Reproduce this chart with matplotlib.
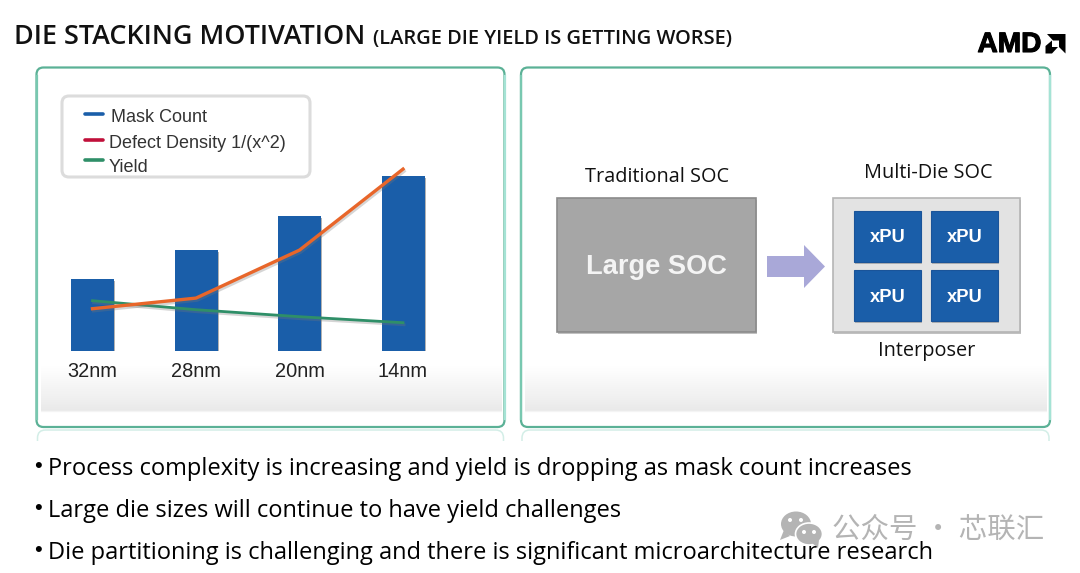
import numpy as np
import matplotlib
matplotlib.use("Agg")
import matplotlib.pyplot as plt
from matplotlib.patches import FancyBboxPatch, Rectangle, Polygon, Ellipse
import matplotlib.patheffects as pe

nodes = ["32nm", "28nm", "20nm", "14nm"]
mask_count = [36, 50.5, 67.5, 87.5]
defect_density = [21, 26.3, 50.3, 90.8]
yield_values = [25, 20.5, 17, 14]
legend_labels = ["Mask Count", "Defect Density 1/(x^2)", "Yield"]
bullets = ["Process complexity is increasing and yield is dropping as mask count increases",
           "Large die sizes will continue to have yield challenges",
           "Die partitioning is challenging and there is significant microarchitecture research"]
xpu_labels = ["xPU", "xPU", "xPU", "xPU"]

BLUE = "#1a5ea9"; ORANGE = "#e8662a"; GREEN = "#2f8f68"; RED = "#c0103a"
W, H = 1080, 573
fig = plt.figure(figsize=(W/100, H/100), dpi=100, facecolor="white")
bg = fig.add_axes([0, 0, 1, 1], zorder=0)
bg.set_xlim(0, W); bg.set_ylim(H, 0); bg.axis("off")
SANS = "Liberation Sans"; BODY = "Open Sans"; HEAD = "Open Sans"

def grad(x0, x1, y0, y1, stops, z=1):
    yy = np.linspace(0, 1, 64)
    g = np.interp(yy, stops[0], stops[1])
    img = np.dstack([g[:, None]] * 3)
    bg.imshow(img, extent=(x0, x1, y1, y0), aspect="auto", zorder=z, vmin=0, vmax=1, interpolation="bilinear")

def panel(x0, y0, x1, y1):
    # faint reflection below
    bg.add_patch(FancyBboxPatch((x0+1, y1+3), x1-x0-2, 60, boxstyle="round,pad=0,rounding_size=8",
                                fc="white", ec="#d3eee7", lw=1.1, zorder=0.5))
    bg.add_patch(Rectangle((x0-3, y1+14), x1-x0+6, 70, fc="white", ec="none", zorder=0.6))
    bg.add_patch(FancyBboxPatch((x0, y0), x1-x0, y1-y0, boxstyle="round,pad=0,rounding_size=7",
                                fc="white", ec="#5bb196", lw=1.6, zorder=0.8))
    bg.plot([x1, x1], [y0+8, y1-8], color="#a5e3d5", lw=1.6, zorder=0.9)
    bg.plot([x0, x0], [y0+8, y1-8], color="#78c8b0", lw=1.6, zorder=0.9)
    grad(x0+4, x1-3, 366, 413, ([0, .75, .95, 1], [1, .935, .915, 1]))

panel(36.5, 67.5, 504.5, 427)
panel(521, 67.5, 1050, 427)
bg.set_xlim(0, W); bg.set_ylim(H, 0)

# title
bg.text(14, 37, "DIE STACKING MOTIVATION", fontfamily=HEAD, fontweight="semibold", fontsize=19.4, va="center", color="#111111")
bg.text(373, 39, "(LARGE DIE YIELD IS GETTING WORSE)", fontfamily=HEAD, fontweight="semibold", fontsize=14.4, va="center", color="#111111")

# logo
bg.text(977.5, 45, "AMD", fontfamily=SANS, fontweight="bold", fontsize=20.2, va="center", color="black",
        path_effects=[pe.withStroke(linewidth=0.8, foreground="black")])
bg.add_patch(Polygon([(1047, 34), (1065.5, 34), (1065.5, 53.5), (1059, 47), (1059, 40.5), (1053, 40.5)], fc="black", ec="none", zorder=3))
bg.add_patch(Polygon([(1045.5, 46), (1052, 40.5), (1052, 47), (1058, 47), (1052, 53.5), (1045.5, 53.5)], fc="black", ec="none", zorder=3))

# legend box
bg.add_patch(FancyBboxPatch((62, 96), 248, 81, boxstyle="round,pad=0,rounding_size=7", fc="white", ec="#dcdcdc", lw=2.2, zorder=2))
for lab, c, ly, tx, ty in zip(legend_labels, [BLUE, RED, GREEN], [114, 140, 160], [111, 109, 109], [118, 143, 167]):
    bg.plot([85, 103], [ly, ly], color=c, lw=2.6, zorder=3, solid_capstyle="round")
    bg.text(tx, ty, lab, fontfamily=SANS, fontsize=13, va="center", color="#333333", zorder=3)

# chart
ax = fig.add_axes([(92.5-50)/W, 1-350.7/H, 400/W, 200/H], zorder=2)
ax.set_facecolor("none")
xs = np.arange(len(nodes))
ax.set_xlim(-50/103.5, (400-50)/103.5)
ax.set_ylim(0, 100)
bars = ax.bar(xs, mask_count, width=43/103.5, color=BLUE, zorder=2)
for b in bars:
    b.set_path_effects([pe.SimplePatchShadow(offset=(1, -1.5), shadow_rgbFace="#666666", alpha=0.5), pe.Normal()])
sh = [pe.SimpleLineShadow(offset=(0.8, -1.5), shadow_color="#777777", alpha=0.3), pe.Normal()]
ax.plot(xs, yield_values, color=GREEN, lw=2, zorder=3, path_effects=sh)
ax.plot(xs, defect_density, color=ORANGE, lw=2.4, zorder=4, path_effects=sh)
for s in ax.spines.values():
    s.set_visible(False)
ax.set_yticks([])
ax.set_xticks(xs, nodes, fontfamily=SANS, fontsize=14.4, color="#222222")
ax.tick_params(axis="x", length=0, pad=8)

# right panel
shadow = [pe.SimplePatchShadow(offset=(1, -1.5), shadow_rgbFace="#666666", alpha=0.4), pe.Normal()]
r = Rectangle((557, 198), 199, 134, fc="#a6a6a6", ec="#8b8b8b", lw=1.2, zorder=2); r.set_path_effects(shadow); bg.add_patch(r)
r = Rectangle((833, 198), 187, 134, fc="#e3e3e3", ec="#b5b5b5", lw=1.2, zorder=2); r.set_path_effects(shadow); bg.add_patch(r)
xpos = [(854, 211), (931, 211), (854, 270), (931, 270)]
for (x, y), lab in zip(xpos, xpu_labels):
    r = Rectangle((x, y), 67, 51, fc=BLUE, ec="#1a5499", lw=0.8, zorder=3); r.set_path_effects(shadow); bg.add_patch(r)
    bg.text(x+33.5, y+27, lab, fontfamily=SANS, fontweight="bold", fontsize=13.2, color="white", ha="center", va="center", zorder=4)
bg.add_patch(Polygon([(767, 256), (804, 256), (804, 245), (825, 266.5), (804, 288), (804, 277), (767, 277)], fc="#a9a8d8", ec="none", zorder=2))
bg.text(656.5, 267.5, "Large SOC", fontfamily=SANS, fontweight="bold", fontsize=19.6, color="#f4f4f4", ha="center", va="center", zorder=4)
bg.text(657, 177, "Traditional SOC", fontfamily=BODY, fontsize=14.3, color="#111111", ha="center", va="center", zorder=4)
bg.text(928, 173, "Multi-Die SOC", fontfamily=BODY, fontsize=14.3, color="#111111", ha="center", va="center", zorder=4)
bg.text(927, 351, "Interposer", fontfamily=BODY, fontsize=14.3, color="#111111", ha="center", va="center", zorder=4)

# watermark
WM = "#b4b4b4"
bg.add_patch(Ellipse((796, 524), 30, 25, fc=WM, ec="none", zorder=3))
bg.add_patch(Polygon([(784, 530), (790, 536), (780, 540)], fc=WM, ec="none", zorder=3))
bg.add_patch(Ellipse((809, 534), 27, 22, fc=WM, ec="white", lw=1.2, zorder=3))
bg.add_patch(Polygon([(812, 543), (818, 548), (819, 540)], fc=WM, ec="none", zorder=3))
for x, y in [(790, 520), (801, 520), (804, 532), (814, 532)]:
    bg.add_patch(Ellipse((x, y), 4, 4, fc="white", ec="none", zorder=4))
bg.text(832, 530, "公众号 · 芯联汇", fontfamily=["Noto Sans CJK SC", "DejaVu Sans"], fontsize=20.5, color=WM, va="center", zorder=3)

# bullets
for t, y in zip(bullets, [469, 511, 553]):
    bg.text(34, y-2, "•", fontfamily=SANS, fontsize=16, color="black", va="center", zorder=5)
    bg.text(48, y, t, fontfamily=BODY, fontsize=17, color="black", va="center", zorder=5)

fig.savefig("out.png", dpi=100, facecolor="white")
